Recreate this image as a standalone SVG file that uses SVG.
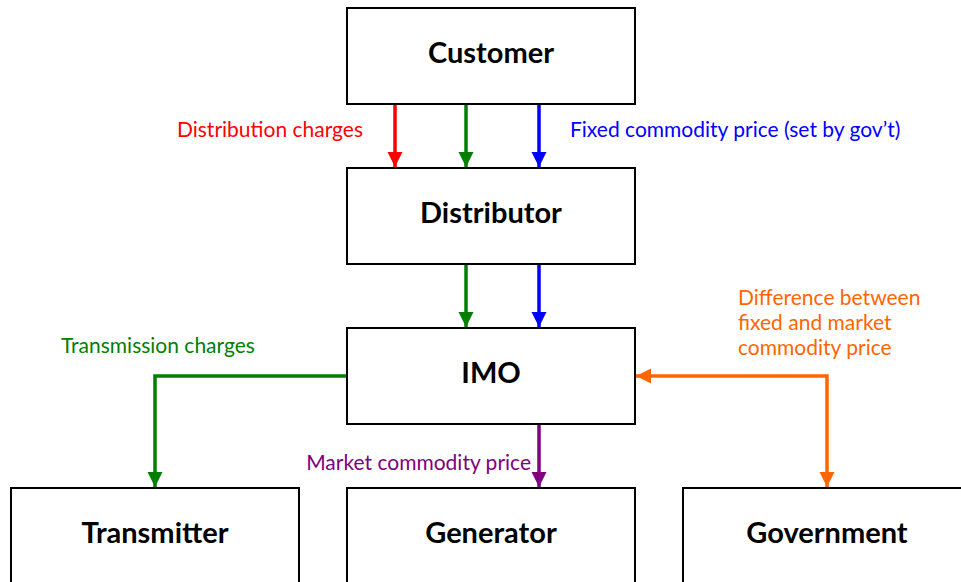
<svg xmlns="http://www.w3.org/2000/svg" width="961" height="582" viewBox="0 0 961 582">
<style>
.box{fill:#fff;stroke:#000;stroke-width:2}
.nt{font-family:Lato,"Open Sans",sans-serif;font-weight:bold;font-size:29px;text-anchor:middle;fill:#000}
.lb{font-family:Lato,"Open Sans",sans-serif;font-size:21px}
.c{fill:none;stroke-width:3.5}
</style>
<defs>
<marker id="ar" viewBox="0 0 10 10" refX="10" refY="5" markerWidth="4.3" markerHeight="4.3" markerUnits="strokeWidth" orient="auto"><path d="M0,0 L10,5 L0,10 z" fill="#f00"/></marker>
<marker id="ag" viewBox="0 0 10 10" refX="10" refY="5" markerWidth="4.3" markerHeight="4.3" markerUnits="strokeWidth" orient="auto"><path d="M0,0 L10,5 L0,10 z" fill="#008000"/></marker>
<marker id="ab" viewBox="0 0 10 10" refX="10" refY="5" markerWidth="4.3" markerHeight="4.3" markerUnits="strokeWidth" orient="auto"><path d="M0,0 L10,5 L0,10 z" fill="#00f"/></marker>
<marker id="ap" viewBox="0 0 10 10" refX="10" refY="5" markerWidth="4.3" markerHeight="4.3" markerUnits="strokeWidth" orient="auto"><path d="M0,0 L10,5 L0,10 z" fill="#800080"/></marker>
<marker id="ao" viewBox="0 0 10 10" refX="10" refY="5" markerWidth="4.3" markerHeight="4.3" markerUnits="strokeWidth" orient="auto-start-reverse"><path d="M0,0 L10,5 L0,10 z" fill="#ff6600"/></marker>
</defs>
<g id="connectors">
<path class="c" stroke="#f00" d="M395,104 V167" marker-end="url(#ar)"/>
<path class="c" stroke="#008000" d="M466,104 V167" marker-end="url(#ag)"/>
<path class="c" stroke="#00f" d="M539,104 V167" marker-end="url(#ab)"/>
<path class="c" stroke="#008000" d="M466,264 V327" marker-end="url(#ag)"/>
<path class="c" stroke="#00f" d="M539,264 V327" marker-end="url(#ab)"/>
<path class="c" stroke="#008000" d="M347,376 H155 V487" marker-end="url(#ag)"/>
<path class="c" stroke="#800080" d="M539,424 V487" marker-end="url(#ap)"/>
<path class="c" stroke="#ff6600" d="M636,376 H827 V487" marker-start="url(#ao)" marker-end="url(#ao)"/>
<text class="lb" fill="#f00" x="363" y="137" text-anchor="end">Distribution charges</text>
<text class="lb" fill="#00f" x="570" y="137">Fixed commodity price (set by gov’t)</text>
<text class="lb" fill="#008000" x="61" y="353">Transmission charges</text>
<text class="lb" fill="#800080" x="531" y="470" text-anchor="end">Market commodity price</text>
<text class="lb" fill="#ff6600" x="738" y="305">Difference between</text>
<text class="lb" fill="#ff6600" x="738" y="330">fixed and market</text>
<text class="lb" fill="#ff6600" x="738" y="355">commodity price</text>
</g>
<g id="customer"><rect class="box" x="347" y="8" width="288" height="96"/><text class="nt" x="491" y="63">Customer</text></g>
<g id="distributor"><rect class="box" x="347" y="168" width="288" height="96"/><text class="nt" x="491" y="223">Distributor</text></g>
<g id="imo"><rect class="box" x="347" y="328" width="288" height="96"/><text class="nt" x="491" y="383">IMO</text></g>
<g id="transmitter"><rect class="box" x="11" y="488" width="288" height="110"/><text class="nt" x="155" y="543">Transmitter</text></g>
<g id="generator"><rect class="box" x="347" y="488" width="288" height="110"/><text class="nt" x="491" y="543">Generator</text></g>
<g id="government"><rect class="box" x="683" y="488" width="288" height="110"/><text class="nt" x="827" y="543">Government</text></g>
</svg>
